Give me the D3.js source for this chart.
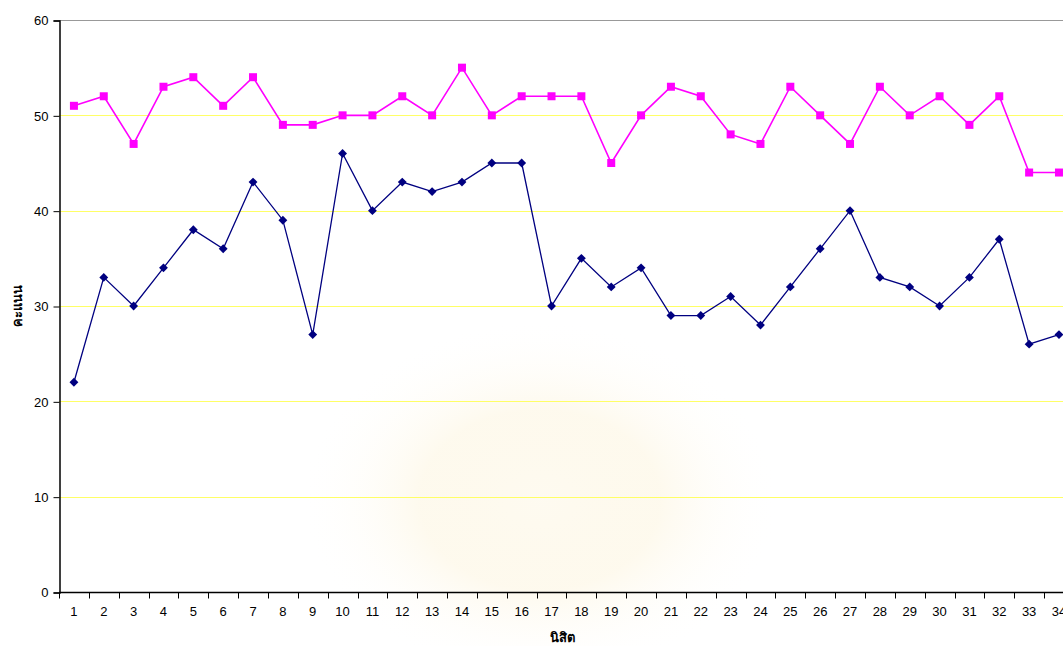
<!DOCTYPE html>
<html lang="th">
<head>
<meta charset="utf-8">
<title>คะแนน</title>
<script src="https://cdn.jsdelivr.net/npm/d3@7"></script>
<style>
  body { margin: 0; background: #fff; }
  svg text { font-family: "Liberation Sans", Arial, sans-serif; }
</style>
</head>
<body>
<script>
  var w = 1063;
  var h = 646;

  // data
  var students = d3.range(1, 35);
  var scoreTop = [51,52,47,53,54,51,54,49,49,50,50,52,50,55,50,52,52,52,45,50,53,52,48,47,53,50,47,53,50,52,49,52,44,44];
  var scoreLow = [22,33,30,34,38,36,43,39,27,46,40,43,42,43,45,45,30,35,32,34,29,29,31,28,32,36,40,33,32,30,33,37,26,27];
  var yTicks = [0,10,20,30,40,50,60];

  var plotLeft = 59, plotTop = 20, plotBottom = 592, step = 29.85;

  var svg = d3.select("body").append("svg")
              .attr("width", w)
              .attr("height", h);

  // faint watermark glow
  var grad = svg.append("defs").append("radialGradient").attr("id", "wm");
  grad.append("stop").attr("offset", "0%").attr("stop-color", "#fefaef").attr("stop-opacity", 0.9);
  grad.append("stop").attr("offset", "50%").attr("stop-color", "#fdf6e2").attr("stop-opacity", 0.6);
  grad.append("stop").attr("offset", "100%").attr("stop-color", "#ffffff").attr("stop-opacity", 0);
  svg.append("ellipse")
     .attr("cx", 540).attr("cy", 500)
     .attr("rx", 240).attr("ry", 180)
     .attr("fill", "url(#wm)");

  var x = d3.scaleBand()
            .domain(students)
            .range([plotLeft, plotLeft + step * students.length]);

  var y = d3.scaleLinear()
            .domain([0, 60])
            .range([plotBottom, plotTop]);

  // gridlines
  svg.append("g").selectAll("line")
     .data(yTicks.filter(function(d) { return d > 0 && d < 60; }))
     .enter().append("line")
     .attr("x1", plotLeft).attr("x2", w)
     .attr("y1", function(d) { return Math.round(y(d)) + 0.5; })
     .attr("y2", function(d) { return Math.round(y(d)) + 0.5; })
     .attr("stroke", "#ffff66")
     .attr("stroke-width", 1);

  svg.append("line")
     .attr("x1", plotLeft).attr("x2", w)
     .attr("y1", y(60) + 0.5).attr("y2", y(60) + 0.5)
     .attr("stroke", "#999").attr("stroke-width", 1);

  // y axis
  var yAxis = svg.append("g")
     .attr("transform", "translate(" + (plotLeft + 0.5) + ",0.5)")
     .call(d3.axisLeft(y).tickValues(yTicks).tickSize(6).tickPadding(5));
  yAxis.select(".domain").attr("stroke", "#000").attr("stroke-width", 1.5);
  yAxis.selectAll("text").attr("font-size", 13).attr("fill", "#000");

  // x axis with ticks on band edges
  var xAxis = svg.append("g")
     .attr("transform", "translate(0," + (plotBottom + 0.5) + ")");
  xAxis.append("line")
     .attr("x1", plotLeft).attr("x2", w)
     .attr("stroke", "#000").attr("stroke-width", 1.5);
  xAxis.selectAll("line.tick")
     .data(students)
     .enter().append("line")
     .attr("class", "tick")
     .attr("x1", function(d) { return Math.round(x(d)) + 0.5; })
     .attr("x2", function(d) { return Math.round(x(d)) + 0.5; })
     .attr("y1", 0).attr("y2", 6)
     .attr("stroke", "#000");
  xAxis.selectAll("text")
     .data(students)
     .enter().append("text")
     .attr("x", function(d) { return x(d) + x.bandwidth() / 2; })
     .attr("y", 23)
     .attr("text-anchor", "middle")
     .attr("font-size", 13)
     .text(function(d) { return d; });

  function cx(d, i) { return x(students[i]) + x.bandwidth() / 2; }

  var line = d3.line()
     .x(function(d, i) { return cx(d, i); })
     .y(function(d) { return y(d); });

  // upper series, magenta squares
  svg.append("path")
     .datum(scoreTop)
     .attr("d", line)
     .attr("fill", "none")
     .attr("stroke", "#ff00ff")
     .attr("stroke-width", 1.6);
  svg.append("g").selectAll("rect")
     .data(scoreTop)
     .enter().append("rect")
     .attr("x", function(d, i) { return cx(d, i) - 4; })
     .attr("y", function(d) { return y(d) - 4; })
     .attr("width", 8).attr("height", 8)
     .attr("fill", "#ff00ff");

  // lower series, navy diamonds
  svg.append("path")
     .datum(scoreLow)
     .attr("d", line)
     .attr("fill", "none")
     .attr("stroke", "#000080")
     .attr("stroke-width", 1.3);
  svg.append("g").selectAll("path.pt")
     .data(scoreLow)
     .enter().append("path")
     .attr("class", "pt")
     .attr("d", d3.symbol().type(d3.symbolDiamond2).size(50))
     .attr("transform", function(d, i) { return "translate(" + cx(d, i) + "," + y(d) + ")"; })
     .attr("fill", "#000080");

  // axis titles
  svg.append("text")
     .attr("x", 562).attr("y", 642)
     .attr("text-anchor", "middle")
     .attr("font-size", 13).attr("font-weight", "bold")
     .text("นิสิต");

  svg.append("text")
     .attr("transform", "translate(22,306) rotate(-90)")
     .attr("text-anchor", "middle")
     .attr("font-size", 13).attr("font-weight", "bold")
     .text("คะแนน");
</script>
</body>
</html>
